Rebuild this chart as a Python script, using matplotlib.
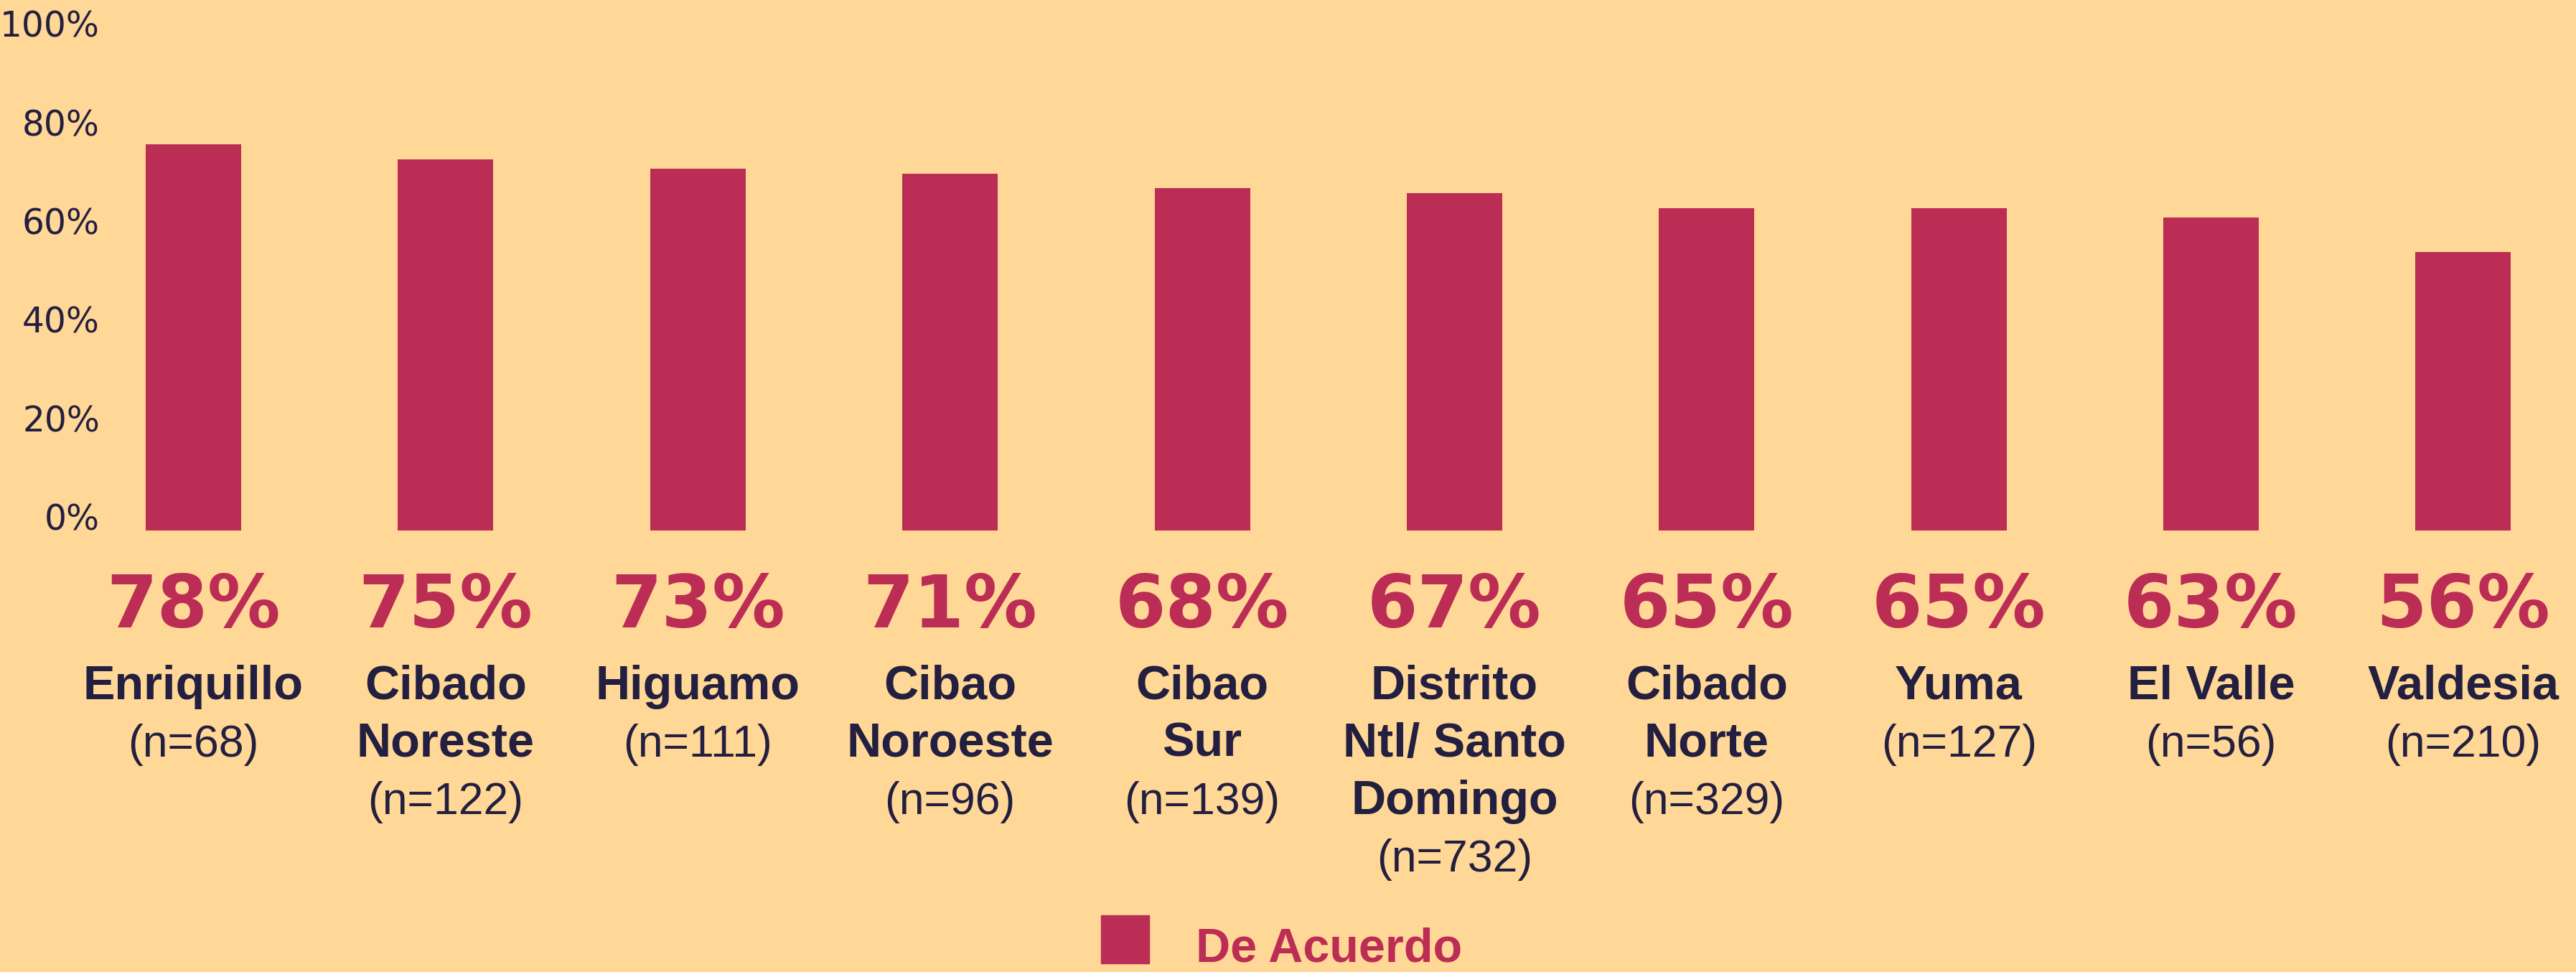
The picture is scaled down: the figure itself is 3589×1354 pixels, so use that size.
import numpy as np
import matplotlib.pyplot as plt
from matplotlib.patches import Rectangle

# regions, bar heights, printed labels and sample sizes
regions = ["Enriquillo", "Cibado\nNoreste", "Higuamo", "Cibao\nNoroeste", "Cibao\nSur",
           "Distrito\nNtl/ Santo\nDomingo", "Cibado\nNorte", "Yuma", "El Valle", "Valdesia"]
agree = [78.3, 75.2, 73.3, 72.3, 69.4, 68.4, 65.3, 65.3, 63.4, 56.4]
agree_label = [78, 75, 73, 71, 68, 67, 65, 65, 63, 56]
n_sample = [68, 122, 111, 96, 139, 732, 329, 127, 56, 210]
series_name = "De Acuerdo"
yticks = [0, 20, 40, 60, 80, 100]

bg = "#FFD796"
red = "#BB2D55"
navy = "#231F40"

W, H, dpi = 3589, 1354, 100
fig = plt.figure(figsize=(W / dpi, H / dpi), dpi=dpi, facecolor=bg)
ax = fig.add_axes([150 / W, 1 - 738.7 / H, 1 - 150 / W, 687 / H])
ax.set_facecolor(bg)

x = np.arange(len(regions))
ax.bar(x, agree, width=0.3785, color=red)
ax.set_xlim(-0.340, 9.447)
ax.set_ylim(0, 100)

ax.set_yticks(yticks)
ax.set_yticklabels([f"{v}%" for v in yticks], fontsize=35, color=navy, family="DejaVu Sans")
ax.tick_params(axis="y", length=0, pad=8)
ax.set_xticks([])
for t in ax.get_yticklabels():
    t.set_va("baseline")
for s in ax.spines.values():
    s.set_visible(False)

trans = ax.get_xaxis_transform()
step = 80 / 687
for i in range(len(regions)):
    ax.text(x[i], (738.7 - 874) / 687, f"{agree_label[i]}%", transform=trans,
            ha="center", va="baseline", fontsize=73, fontweight="heavy",
            color=red, family="DejaVu Sans", clip_on=False)
    lines = regions[i].split("\n")
    y0 = (738.7 - 974) / 687
    for j, ln in enumerate(lines):
        ax.text(x[i], y0 - j * step, ln, transform=trans, ha="center", va="baseline",
                fontsize=48, fontweight="bold", color=navy, family="Liberation Sans",
                clip_on=False)
    ax.text(x[i], y0 - len(lines) * step, f"(n={n_sample[i]})", transform=trans,
            ha="center", va="baseline", fontsize=45, color=navy,
            family="Liberation Sans", clip_on=False)

# legend at the bottom edge
fig.patches.append(Rectangle((1534 / W, 12 / H), 67 / W, 67 / H,
                             transform=fig.transFigure, color=red))
fig.text(1666 / W, 14 / H, series_name, ha="left", va="baseline", fontsize=48,
         fontweight="bold", color=red, family="Liberation Sans")

fig.savefig("out.png", dpi=dpi, facecolor=bg)
